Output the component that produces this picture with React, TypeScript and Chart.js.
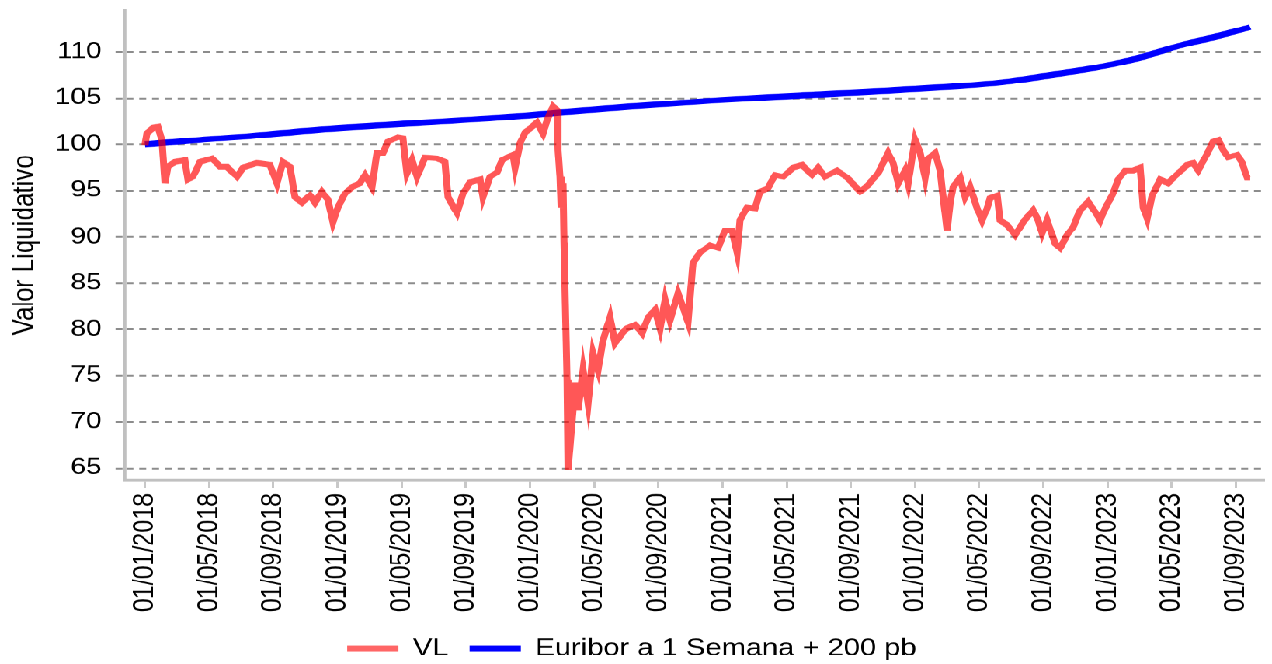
import { useEffect, useRef } from 'react';
import { Chart, registerables } from 'chart.js';

Chart.register(...registerables);

// ---- data (x = months since 01/01/2018) ----
const vlMonths = [
  0, 0.12, 0.5, 0.81, 1.06, 1.25, 1.43, 1.87, 2.49, 2.68,
  2.99, 3.43, 4.18, 4.68, 5.11, 5.74, 6.11, 6.98, 7.79, 8.23,
  8.6, 9.04, 9.35, 9.79, 10.29, 10.6, 11.03, 11.41, 11.72, 12.03,
  12.47, 12.91, 13.4, 13.72, 14.15, 14.46, 14.84, 15.15, 15.77, 16.08,
  16.21, 16.33, 16.65, 16.96, 17.46, 18.2, 18.7, 18.89, 19.45, 19.83,
  20.26, 20.89, 21.07, 21.51, 21.95, 22.26, 22.57, 22.94, 23.07, 23.38,
  23.69, 24.13, 24.44, 24.81, 25.12, 25.44, 25.69, 25.75, 25.87, 25.94,
  26.06, 26.12, 26.18, 26.31, 26.37, 26.62, 26.81, 27.0, 27.31, 27.62,
  27.93, 28.24, 28.55, 28.99, 29.3, 29.8, 30.05, 30.55, 30.99, 31.36,
  31.8, 32.11, 32.42, 32.73, 33.23, 33.54, 33.85, 34.16, 34.6, 35.22,
  35.72, 36.16, 36.6, 36.91, 37.09, 37.53, 38.03, 38.34, 38.84, 39.28,
  39.78, 40.4, 40.96, 41.58, 41.96, 42.39, 43.14, 43.77, 44.58, 45.07,
  45.7, 46.32, 46.63, 46.95, 47.38, 47.57, 47.82, 48.0, 48.32, 48.63,
  48.82, 49.25, 49.56, 49.75, 50.0, 50.19, 50.37, 50.81, 51.12, 51.43,
  51.87, 52.18, 52.49, 52.68, 53.12, 53.3, 53.74, 54.24, 54.74, 55.36,
  55.67, 55.92, 56.23, 56.73, 57.04, 57.48, 57.86, 58.29, 58.79, 59.23,
  59.54, 59.85, 60.29, 60.66, 61.1, 61.6, 62.03, 62.22, 62.47, 62.78,
  63.28, 63.78, 64.4, 64.96, 65.34, 65.65, 66.08, 66.58, 66.9, 67.21,
  67.52, 68.08, 68.39, 68.7, 68.89,
];
const vlValues = [
  99.9, 101.2, 101.8, 101.9, 100.5, 95.8, 97.6, 98.1, 98.3, 96.2,
  96.5, 98.1, 98.5, 97.6, 97.6, 96.5, 97.5, 98.0, 97.8, 95.8,
  98.1, 97.6, 94.3, 93.7, 94.5, 93.7, 94.9, 94.0, 91.6, 93.2,
  94.7, 95.4, 95.8, 96.7, 95.4, 99.1, 99.1, 100.3, 100.8, 100.7,
  98.6, 96.9, 98.3, 96.5, 98.6, 98.5, 98.1, 94.3, 92.6, 94.7,
  95.9, 96.2, 94.3, 96.5, 97.0, 98.3, 98.6, 98.9, 97.5, 100.1,
  101.3, 101.9, 102.4, 101.2, 102.9, 104.1, 103.7, 99.4, 96.5, 93.2,
  95.8, 89.4, 84.6, 74.5, 64.8, 69.9, 74.2, 71.3, 75.6, 72.0,
  77.4, 75.6, 78.8, 81.3, 78.5, 79.7, 80.1, 80.5, 79.6, 81.3,
  82.1, 80.1, 83.2, 81.0, 83.9, 82.4, 80.8, 87.2, 88.3, 89.1,
  88.8, 90.7, 90.7, 88.3, 91.8, 93.2, 93.1, 94.9, 95.3, 96.7,
  96.5, 97.5, 97.8, 96.7, 97.5, 96.5, 97.2, 96.4, 94.9, 95.6,
  96.9, 99.1, 98.0, 95.8, 97.2, 95.8, 98.6, 100.5, 99.1, 96.4,
  98.5, 99.1, 97.2, 94.3, 90.7, 93.7, 95.4, 96.4, 94.3, 95.4,
  93.1, 91.8, 93.1, 94.2, 94.5, 91.8, 91.3, 90.2, 91.6, 92.9,
  91.8, 90.4, 91.8, 89.3, 88.8, 90.2, 91.1, 92.9, 93.8, 92.7,
  91.8, 93.1, 94.5, 96.2, 97.2, 97.2, 97.5, 93.2, 92.0, 94.5,
  96.2, 95.8, 96.9, 97.8, 98.0, 97.2, 98.6, 100.3, 100.5, 99.4,
  98.6, 98.9, 98.0, 96.4, 96.4,
];

const euriborMonths = [0, 3.43, 6.55, 10.91, 15.9, 22.76, 25.44, 30.24, 35.85, 40.84, 47.07, 53.3, 56.05, 59.54, 62.22, 64.71, 66.83, 68.89];
const euriborValues = [100.0, 100.5, 100.9, 101.6, 102.2, 103.0, 103.4, 104.1, 104.8, 105.3, 105.9, 106.7, 107.4, 108.4, 109.5, 110.8, 111.7, 112.7];

const seriesLabels = ['VL', 'Euribor a 1 Semana + 200 pb'];
const yTickValues = [65, 70, 75, 80, 85, 90, 95, 100, 105, 110];
const xTickMonths = [0, 4, 8, 12, 16, 20, 24, 28, 32, 36, 40, 44, 48, 52, 56, 60, 64, 68];
const xTickLabels = [
  '01/01/2018', '01/05/2018', '01/09/2018', '01/01/2019', '01/05/2019', '01/09/2019',
  '01/01/2020', '01/05/2020', '01/09/2020', '01/01/2021', '01/05/2021', '01/09/2021',
  '01/01/2022', '01/05/2022', '01/09/2022', '01/01/2023', '01/05/2023', '01/09/2023',
];

// ---- presentation ----
const W = 546;
const H = 350;
const SX = 1272 / W;
const SY = 664 / H;
const RED = 'rgba(255,0,0,0.66)';
const BLUE = '#0000ff';
const FONT = "'Liberation Sans', Arial, sans-serif";

export default function App() {
  const ref = useRef<HTMLCanvasElement>(null);

  useEffect(() => {
    const canvas = ref.current;
    if (!canvas) return;
    const chart = new Chart(canvas, {
      type: 'line',
      data: {
        datasets: [
          {
            label: seriesLabels[0],
            data: vlMonths.map((m, i) => ({ x: m, y: vlValues[i] })),
            borderColor: RED,
            backgroundColor: RED,
            borderWidth: 3,
            pointRadius: 0,
            tension: 0,
          },
          {
            label: seriesLabels[1],
            data: euriborMonths.map((m, i) => ({ x: m, y: euriborValues[i] })),
            borderColor: BLUE,
            backgroundColor: BLUE,
            borderWidth: 3.2,
            pointRadius: 0,
            cubicInterpolationMode: 'monotone',
          },
        ],
      },
      options: {
        responsive: false,
        animation: false,
        devicePixelRatio: 3,
        layout: { padding: { top: 5.3, right: 3.5, left: 0, bottom: -8 } },
        plugins: {
          tooltip: { enabled: false },
          legend: {
            position: 'bottom',
            align: 'center',
            labels: {
              color: '#000',
              font: { family: FONT, size: 12.5 },
              boxWidth: 22,
              boxHeight: 3,
              padding: 9,
              generateLabels: (c: any) =>
                c.data.datasets.map((ds: any, i: number) => ({
                  text: ds.label,
                  fillStyle: i === 0 ? 'rgba(255,0,0,0.6)' : BLUE,
                  strokeStyle: i === 0 ? 'rgba(255,0,0,0.6)' : BLUE,
                  lineWidth: 0,
                  hidden: false,
                  datasetIndex: i,
                  fontColor: '#000',
                })),
            },
          },
        },
        scales: {
          x: {
            type: 'linear',
            min: -1.25,
            max: 69.74,
            afterBuildTicks: (scale: any) => {
              scale.ticks = xTickMonths.map((v) => ({ value: v }));
            },
            afterFit: (scale: any) => {
              scale.height = 73.5;
              scale.paddingLeft = 0;
              scale.paddingRight = 0;
            },
            ticks: {
              autoSkip: false,
              minRotation: 90,
              maxRotation: 90,
              padding: 3,
              color: '#000',
              font: { family: FONT, size: 12.5 },
              callback: (_v: any, i: number) => xTickLabels[i] ?? '',
            },
            grid: {
              display: true,
              drawOnChartArea: false,
              drawTicks: true,
              tickLength: 4,
              tickColor: '#c8c8c8',
              tickWidth: 1,
            },
            border: { display: true, color: '#c0c0c0', width: 1.5 },
          },
          y: {
            type: 'linear',
            min: 63.71,
            max: 114.54,
            afterBuildTicks: (scale: any) => {
              scale.ticks = yTickValues.map((v) => ({ value: v }));
            },
            afterFit: (scale: any) => {
              scale.width = 53.6;
              scale.paddingTop = 0;
              scale.paddingBottom = 0;
            },
            ticks: {
              padding: 6,
              color: '#000',
              font: { family: FONT, size: 12 },
              callback: (v: any) => String(v),
            },
            grid: {
              color: '#8c8c8c',
              lineWidth: 1,
              drawTicks: true,
              tickLength: 4,
              tickColor: '#8c8c8c',
              tickWidth: 1,
              tickBorderDash: [3, 2.5],
            },
            border: { display: true, color: '#c0c0c0', width: 1.6, dash: [3, 2.5] },
            title: {
              display: true,
              text: 'Valor Liquidativo',
              color: '#000',
              font: { family: FONT, size: 13 },
              padding: { top: 2.8, bottom: 0 },
            },
          },
        },
      } as any,
    });
    return () => chart.destroy();
  }, []);

  return (
    <div
      style={{
        position: 'absolute',
        left: 0,
        top: 0,
        width: W,
        height: H,
        transform: `scale(${SX}, ${SY})`,
        transformOrigin: '0 0',
        background: '#fff',
      }}
    >
      <canvas ref={ref} width={W} height={H} />
    </div>
  );
}
